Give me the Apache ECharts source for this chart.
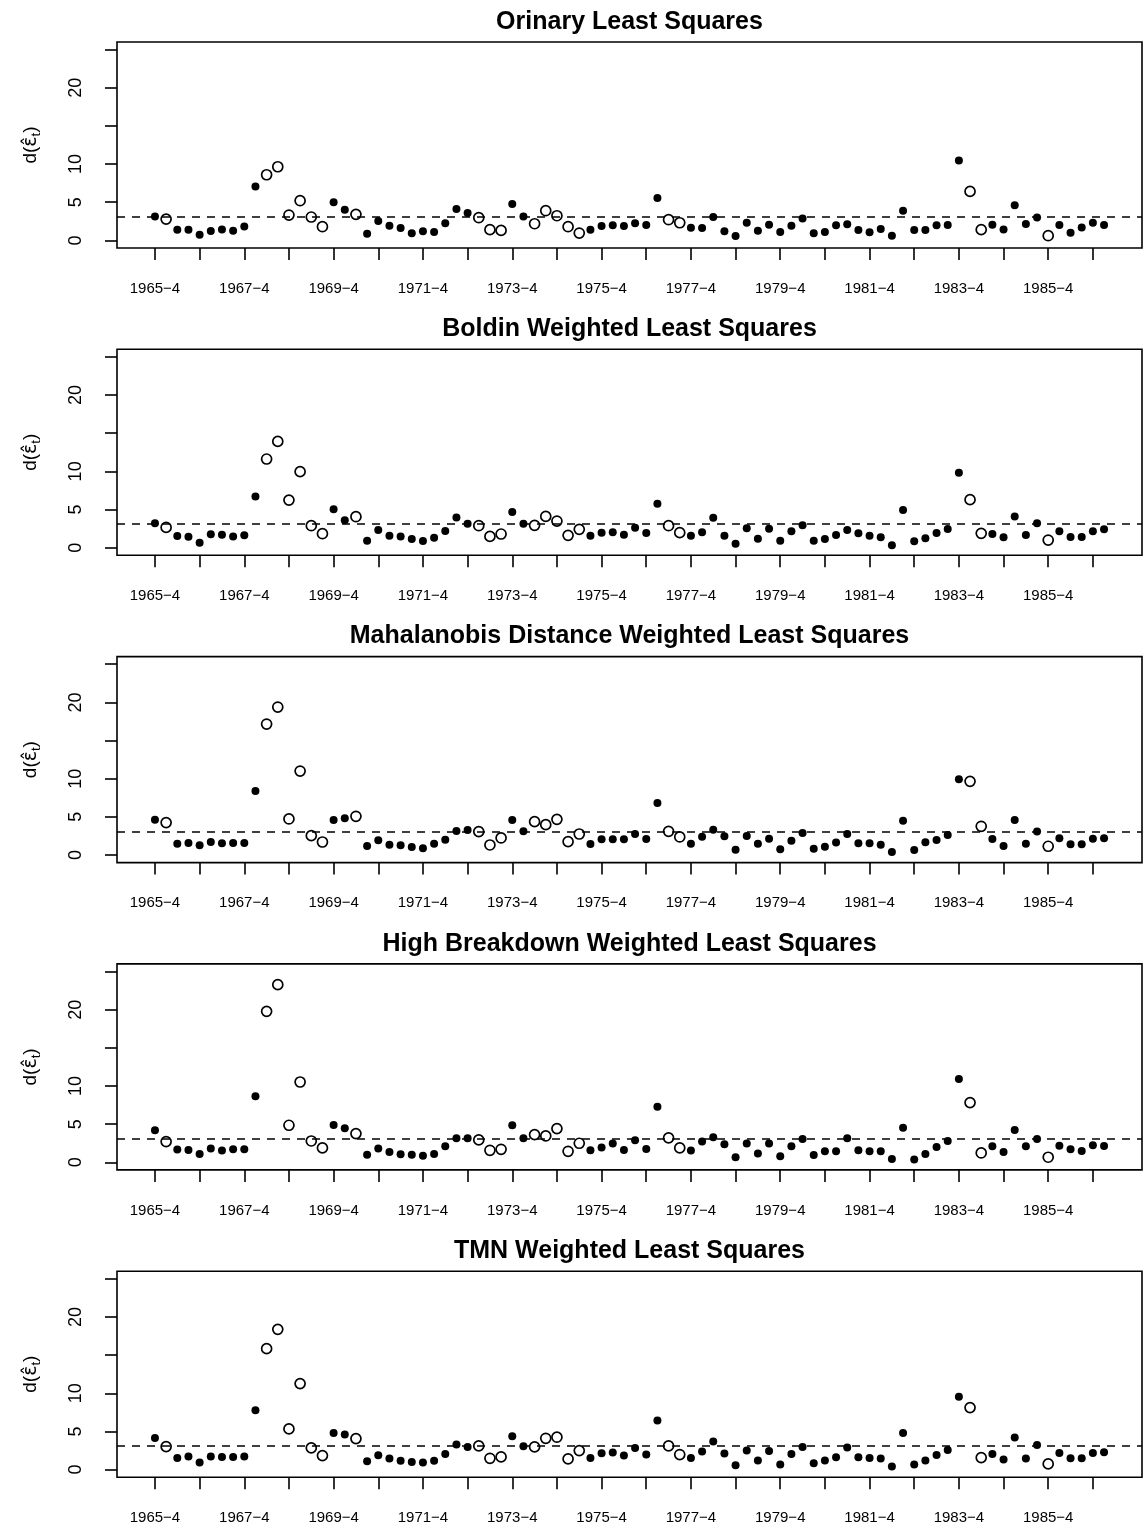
<!DOCTYPE html>
<html><head><meta charset="utf-8">
<script src="https://cdn.jsdelivr.net/npm/echarts@6/dist/echarts.min.js"></script>
<style>html,body{margin:0;padding:0;background:#fff}#c{width:1144px;height:1526px}</style>
</head><body><div id="c"></div><script>
// ---- data ----
const startYear = 1965, startQuarter = 4, nQuarters = 86;
const quarters = [];
for (let i = 0; i < nQuarters; i++) {
  const k = startQuarter - 1 + i;
  quarters.push((startYear + Math.floor(k / 4)) + '\u2212' + (k % 4 + 1));
}
const xTickLabels = ['1965\u22124','1967\u22124','1969\u22124','1971\u22124','1973\u22124','1975\u22124','1977\u22124','1979\u22124','1981\u22124','1983\u22124','1985\u22124'];
const yTicks = [0, 5, 10, 15, 20, 25];
const yTickLabels = [0, 5, 10, 20];
const cutoff = 3.1;
const titles = ['Orinary Least Squares','Boldin Weighted Least Squares','Mahalanobis Distance Weighted Least Squares','High Breakdown Weighted Least Squares','TMN Weighted Least Squares'];
const openIdx = [1,10,11,12,13,14,15,18,29,30,31,34,35,36,37,38,46,47,73,74,80];

const ols = [3.14,2.79,1.40,1.40,0.74,1.22,1.44,1.27,1.83,7.07,
  8.60,9.65,3.32,5.20,3.06,1.79,4.98,4.02,3.41,0.87,
  2.53,1.92,1.62,0.92,1.18,1.09,2.23,4.10,3.58,2.97,
  1.40,1.31,4.76,3.14,2.18,3.89,3.23,1.79,0.96,1.40,
  1.88,1.97,1.88,2.23,2.01,5.55,2.71,2.31,1.66,1.62,
  3.06,1.18,0.57,2.31,1.27,2.05,1.09,1.92,2.88,0.92,
  1.09,1.97,2.10,1.35,1.05,1.48,0.61,3.89,1.35,1.35,
  1.97,2.01,10.48,6.42,1.40,2.05,1.44,4.59,2.14,3.01,
  0.61,2.01,1.00,1.70,2.31,2.01];
const boldin = [3.19,2.66,1.53,1.44,0.66,1.75,1.70,1.48,1.62,6.72,
  11.62,13.93,6.24,9.96,2.88,1.83,5.02,3.58,4.06,0.92,
  2.31,1.57,1.48,1.14,0.87,1.31,2.18,3.97,3.14,2.88,
  1.48,1.79,4.67,3.14,2.93,4.10,3.49,1.62,2.40,1.57,
  1.97,2.01,1.70,2.62,1.92,5.76,2.88,1.97,1.57,2.01,
  3.93,1.57,0.52,2.53,1.18,2.49,0.92,2.14,2.93,0.92,
  1.14,1.66,2.31,1.88,1.57,1.35,0.31,4.93,0.83,1.22,
  1.92,2.45,9.83,6.29,1.88,1.79,1.35,4.10,1.66,3.19,
  1.00,2.14,1.40,1.40,2.14,2.40];
const mahalanobis = [4.63,4.24,1.48,1.57,1.27,1.70,1.53,1.57,1.57,8.38,
  17.16,19.39,4.72,11.00,2.53,1.70,4.59,4.80,5.07,1.18,
  1.92,1.35,1.27,1.05,0.87,1.48,2.01,3.14,3.28,3.06,
  1.31,2.23,4.59,3.10,4.37,3.97,4.67,1.75,2.75,1.44,
  2.05,2.05,2.05,2.75,2.10,6.81,3.10,2.36,1.48,2.40,
  3.32,2.45,0.70,2.49,1.48,2.14,0.74,1.88,2.88,0.83,
  1.09,1.62,2.75,1.53,1.53,1.35,0.39,4.50,0.66,1.66,
  1.97,2.62,9.91,9.65,3.76,2.10,1.18,4.59,1.48,3.06,
  1.14,2.18,1.40,1.40,2.14,2.18];
const highBreakdown = [4.19,2.71,1.66,1.62,1.09,1.79,1.53,1.70,1.70,8.65,
  19.78,23.28,4.85,10.52,2.79,1.88,4.89,4.45,3.76,1.00,
  1.79,1.35,1.05,1.00,0.87,1.09,2.10,3.14,3.14,2.93,
  1.57,1.70,4.85,3.14,3.62,3.45,4.41,1.44,2.49,1.57,
  1.92,2.45,1.62,2.88,1.75,7.29,3.19,1.88,1.53,2.71,
  3.28,2.36,0.66,2.45,1.14,2.45,0.79,2.10,3.06,0.96,
  1.44,1.44,3.14,1.57,1.44,1.44,0.44,4.54,0.35,1.09,
  2.01,2.79,10.92,7.82,1.22,2.10,1.35,4.24,2.10,3.06,
  0.66,2.18,1.70,1.48,2.23,2.14];
const tmn = [4.15,3.01,1.53,1.70,0.92,1.70,1.66,1.66,1.70,7.77,
  15.85,18.38,5.33,11.27,2.84,1.83,4.80,4.59,4.06,1.09,
  1.88,1.44,1.14,1.00,0.92,1.14,2.05,3.28,2.97,3.10,
  1.48,1.66,4.37,3.06,2.97,4.10,4.24,1.40,2.49,1.53,
  2.14,2.23,1.83,2.84,1.97,6.42,3.10,1.97,1.53,2.36,
  3.67,2.10,0.57,2.49,1.18,2.45,0.66,2.05,2.97,0.83,
  1.18,1.62,2.88,1.62,1.53,1.44,0.39,4.80,0.66,1.18,
  1.92,2.58,9.56,8.12,1.57,2.05,1.31,4.19,1.44,3.23,
  0.74,2.18,1.48,1.48,2.18,2.27];
const panels = [ols, boldin, mahalanobis, highBreakdown, tmn];

// ---- layout / style ----
const FONT = '"Liberation Sans", Arial, Helvetica, sans-serif';
const gridLeft = 117, gridWidth = 1025, gridTop0 = 42, gridStep = 307.3, gridHeight = 206;
const xPad = 0.04 * (nQuarters - 1);
const yMin = 0, yMax = 25, yPad = 0.04 * (yMax - yMin);

const tickPos = quarters.map((q, i) => q.endsWith('\u22124') ? i : -1).filter(i => i >= 0);
const labelPos = xTickLabels.map(l => quarters.indexOf(l));

const option = { animation: false, backgroundColor: '#fff', grid: [], xAxis: [], yAxis: [], series: [], graphic: [] };
panels.forEach((vals, p) => {
  const top = gridTop0 + gridStep * p;
  option.grid.push({ left: gridLeft, top: top, width: gridWidth, height: gridHeight, show: true,
    borderColor: '#000', borderWidth: 1.6, backgroundColor: 'transparent', containLabel: false });
  option.xAxis.push({ type: 'value', gridIndex: p, min: -xPad, max: nQuarters - 1 + xPad, position: 'bottom',
    axisLine: { show: false, onZero: false }, splitLine: { show: false },
    axisTick: { show: true, customValues: tickPos, length: 12, lineStyle: { color: '#000', width: 1.6 } },
    axisLabel: { show: true, customValues: labelPos, formatter: v => quarters[Math.round(v)], margin: 33,
      color: '#000', fontSize: 15, fontFamily: FONT } });
  option.yAxis.push({ type: 'value', gridIndex: p, min: yMin - yPad, max: yMax + yPad, position: 'left',
    axisLine: { show: false, onZero: false }, splitLine: { show: false },
    axisTick: { show: true, customValues: yTicks, length: 12, lineStyle: { color: '#000', width: 1.6 } },
    axisLabel: { show: true, customValues: yTickLabels, rotate: 90, margin: 32,
      color: '#000', fontSize: 18, fontFamily: FONT },
    name: 'd({e|\u03B5\u0302}{s|t})', nameLocation: 'middle', nameGap: 74, nameRotate: 90,
    nameTextStyle: { color: '#000', fontSize: 19, fontFamily: FONT,
      rich: { e: { fontSize: 19, fontFamily: '"DejaVu Sans", sans-serif', color: '#000' },
              s: { fontSize: 13, fontFamily: FONT, color: '#000', verticalAlign: 'bottom', padding: [11, 0, 0, 0] } } } });
  const filled = [], open = [];
  vals.forEach((v, i) => { (openIdx.includes(i) ? open : filled).push([i, v]); });
  option.series.push({ type: 'scatter', xAxisIndex: p, yAxisIndex: p, data: filled, symbol: 'circle', symbolSize: 8,
    itemStyle: { color: '#000', opacity: 1 }, z: 3,
    markLine: { silent: true, symbol: 'none', label: { show: false }, data: [{ yAxis: cutoff }],
      lineStyle: { color: '#000', width: 1.6, type: [8, 7], opacity: 1 }, z: 2 } });
  option.series.push({ type: 'scatter', xAxisIndex: p, yAxisIndex: p, data: open, symbol: 'circle', symbolSize: 10,
    itemStyle: { color: 'rgba(0,0,0,0)', borderColor: '#000', borderWidth: 1.7, opacity: 1 }, z: 3 });
  option.graphic.push({ type: 'text', x: gridLeft + gridWidth / 2, y: top - 20,
    style: { text: titles[p], fill: '#000', font: 'bold 25px ' + FONT, textAlign: 'center', textVerticalAlign: 'middle' } });
});
echarts.init(document.getElementById('c'), null, { renderer: 'canvas' }).setOption(option);
</script></body></html>
